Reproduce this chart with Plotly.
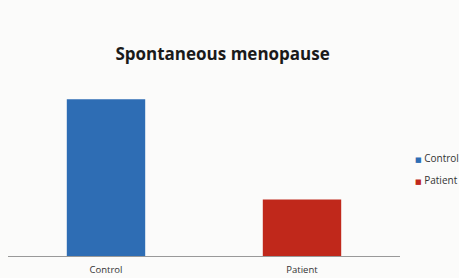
import plotly.graph_objects as go

categories = ["Control", "Patient"]
values = [62, 22.3]
colors = ["#2E6DB4", "#C0281B"]
legend_y = [0.555, 0.43]

fig = go.Figure()
for c, v, col in zip(categories, values, colors):
    fig.add_trace(go.Bar(x=[c], y=[v], name=c, marker_color=col,
                         marker_line_width=0, width=0.40, showlegend=False))

for c, col, ly in zip(categories, colors, legend_y):
    fig.add_annotation(
        xref="paper", yref="paper", x=1.033, y=ly, xanchor="left", yanchor="middle",
        showarrow=False,
        text=f'<span style="color:{col};font-family:DejaVu Sans;font-size:7px">■</span> {c}',
        font=dict(family="Open Sans", size=10, color="#333"))

fig.update_layout(
    width=459, height=278,
    barmode="overlay",
    paper_bgcolor="#FBFBFA", plot_bgcolor="#FBFBFA",
    margin=dict(l=8, r=59, t=79, b=22, autoexpand=False),
    title=dict(text="<b>Spontaneous menopause</b>", x=0.485, xanchor="center",
               y=0.805, yanchor="middle",
               font=dict(family="Open Sans", size=17, color="#1a1a1a")),
    font=dict(family="Open Sans", color="#333"),
    showlegend=False,
)
fig.update_xaxes(showline=True, linecolor="#999", linewidth=1, ticks="",
                 ticklabelstandoff=5,
                 tickfont=dict(size=9.5, color="#333"), showgrid=False)
fig.update_yaxes(range=[0, 70], visible=False, showgrid=False)

fig.write_html("out.html", config={"displayModeBar": False},
               post_script="document.body.style.margin='0';")
